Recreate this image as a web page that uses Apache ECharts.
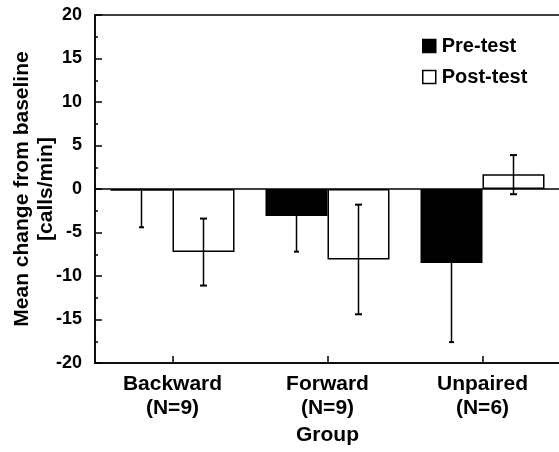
<!DOCTYPE html>
<html>
<head>
<meta charset="utf-8">
<script src="https://cdn.jsdelivr.net/npm/echarts@6/dist/echarts.min.js"></script>
<style>
html,body{margin:0;padding:0;background:#fff;}
#c{width:559px;height:452px;}
</style>
</head>
<body>
<div id="c"></div>
<script>
var categories = ['Backward\n(N=9)', 'Forward\n(N=9)', 'Unpaired\n(N=6)'];
var seriesNames = ['Pre-test', 'Post-test'];
var preMean = [-0.2, -3.1, -8.5];
var preLow = [-4.4, -7.2, -17.6];
var postMean = [-7.25, -8.1, 1.7];
var postLow = [-11.1, -14.4, -0.6];
var postHigh = [-3.4, -1.8, 3.9];
var yTicks = [-20, -15, -10, -5, 0, 5, 10, 15, 20];

var FONT = '"Liberation Sans", Arial, Helvetica, sans-serif';
var chart = echarts.init(document.getElementById('c'), null, {renderer: 'canvas'});

function errRender(side, capW, twoSided) {
  return function (params, api) {
    var idx = api.value(0);
    var lowPt = api.coord([idx, api.value(1)]);
    var highPt = api.coord([idx, api.value(2)]);
    var catW = api.size([1, 0])[0];
    var barW = catW * 0.8 / 2;
    var x = lowPt[0] + side * barW / 2;
    var style = {stroke: '#000', lineWidth: 1.5};
    var children = [
      {type: 'line', shape: {x1: x, y1: lowPt[1], x2: x, y2: highPt[1]}, style: style},
      {type: 'line', shape: {x1: x - capW, y1: lowPt[1], x2: x + capW, y2: lowPt[1]}, style: {stroke: '#000', lineWidth: 2}}
    ];
    if (twoSided) {
      children.push({type: 'line', shape: {x1: x - capW, y1: highPt[1], x2: x + capW, y2: highPt[1]}, style: {stroke: '#000', lineWidth: 2}});
    }
    return {type: 'group', children: children};
  };
}

var preErrData = categories.map(function (c, i) { return [i, preLow[i], preMean[i]]; });
var postErrData = categories.map(function (c, i) { return [i, postLow[i], postHigh[i]]; });

chart.setOption({
  animation: false,
  backgroundColor: '#fff',
  textStyle: {fontFamily: FONT, color: '#000'},
  grid: {left: 95, right: -1, top: 15, bottom: 89, show: true, borderColor: '#000', borderWidth: 1.5,
    backgroundColor: 'transparent', containLabel: false, outerBoundsMode: 'none'},
  legend: {
    orient: 'vertical', left: 417, top: 31,
    itemWidth: 13, itemHeight: 13, itemGap: 11,
    textStyle: {fontFamily: FONT, fontWeight: 'bold', fontSize: 20, color: '#000', padding: [0, 0, 0, 1]},
    data: [
      {name: 'Pre-test', icon: 'rect', itemStyle: {color: '#000', borderColor: '#000', borderWidth: 1.5}},
      {name: 'Post-test', icon: 'rect', itemStyle: {color: '#fff', borderColor: '#000', borderWidth: 1.5}}
    ]
  },
  xAxis: {
    type: 'category',
    data: categories,
    name: 'Group',
    nameLocation: 'middle',
    nameGap: 62,
    nameMoveOverlap: false,
    nameTextStyle: {fontFamily: FONT, fontWeight: 'bold', fontSize: 21, color: '#000'},
    axisLine: {show: true, onZero: false, lineStyle: {color: '#000', width: 1.5}},
    axisTick: {show: true, inside: true, alignWithLabel: true, length: 7, lineStyle: {color: '#000', width: 1.5}},
    axisLabel: {fontFamily: FONT, fontWeight: 'bold', fontSize: 21, color: '#000', lineHeight: 24, margin: 9},
    splitLine: {show: false}
  },
  yAxis: {
    type: 'value',
    min: yTicks[0], max: yTicks[yTicks.length - 1], interval: 5,
    name: 'Mean change from baseline\n[calls/min]',
    nameLocation: 'middle',
    nameRotate: 90,
    nameGap: 37,
    nameMoveOverlap: false,
    nameTextStyle: {fontFamily: FONT, fontWeight: 'bold', fontSize: 21, color: '#000', lineHeight: 24},
    axisLine: {show: true, lineStyle: {color: '#000', width: 1.5}},
    axisTick: {show: true, inside: true, length: 7, lineStyle: {color: '#000', width: 1.5}},
    minorTick: {show: true, splitNumber: 2, length: 3, lineStyle: {color: '#000', width: 1.5}},
    axisLabel: {fontFamily: FONT, fontWeight: 'bold', fontSize: 18, color: '#000', margin: 13},
    splitLine: {show: false}
  },
  series: [
    {
      name: 'Pre-test', type: 'bar', data: preMean,
      barGap: '0%', barCategoryGap: '20%',
      itemStyle: {color: '#000', borderColor: '#000', borderWidth: 1.5},
      markLine: {silent: true, symbol: 'none', label: {show: false},
        lineStyle: {color: '#000', width: 1.5, type: 'solid'}, data: [{yAxis: 0}]}
    },
    {
      name: 'Post-test', type: 'bar', data: postMean,
      barGap: '0%', barCategoryGap: '20%',
      itemStyle: {color: '#fff', borderColor: '#000', borderWidth: 1.5}
    },
    {
      type: 'custom', name: 'preErr', data: preErrData, z: 5,
      encode: {x: 0, y: [1, 2]},
      renderItem: errRender(-1, 2.5, false)
    },
    {
      type: 'custom', name: 'postErr', data: postErrData, z: 5,
      encode: {x: 0, y: [1, 2]},
      renderItem: errRender(1, 3.5, true)
    }
  ]
});
</script>
</body>
</html>
